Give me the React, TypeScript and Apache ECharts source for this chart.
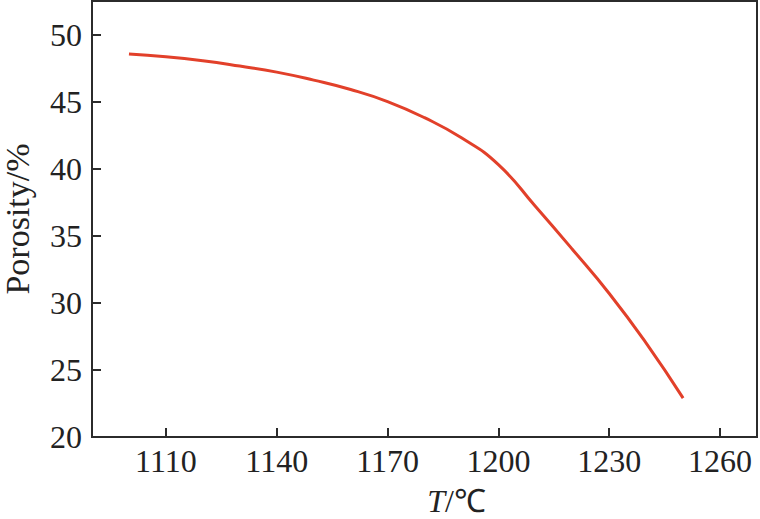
import React, { useEffect, useRef } from "react";
import * as echarts from "echarts";

const temps = [1100, 1110, 1120, 1130, 1140, 1150, 1160, 1170, 1180, 1190, 1200, 1210, 1220, 1230, 1240, 1250];
const porosity = [48.55, 48.35, 48.05, 47.65, 47.2, 46.6, 45.9, 45.0, 43.8, 42.3, 40.3, 37.2, 34.0, 30.7, 27.0, 22.9];
const xTicks = [1110, 1140, 1170, 1200, 1230, 1260];
const yTicks = [20, 25, 30, 35, 40, 45, 50];

const FONT = "'Liberation Serif', 'Times New Roman', serif";

export default function App() {
  const ref = useRef<HTMLDivElement>(null);
  useEffect(() => {
    if (!ref.current) return;
    const chart = echarts.init(ref.current, null, { renderer: "svg" });
    chart.setOption({
      animation: false,
      backgroundColor: "#ffffff",
      grid: {
        left: 92,
        right: 3,
        top: 1,
        bottom: 82,
        show: true,
        borderColor: "#2b2b2b",
        borderWidth: 2,
        backgroundColor: "transparent",
        containLabel: false,
        outerBoundsMode: "none",
      },
      xAxis: {
        type: "value",
        min: 1090,
        max: 1270,
        name: "{i|T}{n|/℃}",
        nameLocation: "middle",
        nameGap: 48,
        nameTextStyle: {
          padding: [0, 0, 0, 64],
          rich: {
            i: { fontFamily: FONT, fontStyle: "italic", fontSize: 32, color: "#222" },
            n: { fontFamily: FONT, fontSize: 32, color: "#222" },
          },
        },
        axisLine: { show: true, lineStyle: { color: "#2b2b2b", width: 2 } },
        axisTick: { show: true, inside: true, length: 9, customValues: xTicks, lineStyle: { color: "#2b2b2b", width: 2 } },
        axisLabel: {
          customValues: xTicks,
          formatter: (v: number) => String(v),
          margin: 8,
          fontFamily: FONT,
          fontSize: 32,
          color: "#222",
        },
        splitLine: { show: false },
      },
      yAxis: {
        type: "value",
        min: 20,
        max: 52.5,
        name: "Porosity/%",
        nameLocation: "middle",
        nameGap: 58,
        nameTextStyle: { fontFamily: FONT, fontSize: 34, color: "#222" },
        axisLine: { show: true, lineStyle: { color: "#2b2b2b", width: 2 } },
        axisTick: { show: true, inside: true, length: 9, customValues: yTicks, lineStyle: { color: "#2b2b2b", width: 2 } },
        axisLabel: {
          customValues: yTicks,
          formatter: (v: number) => String(v),
          margin: 10,
          fontFamily: FONT,
          fontSize: 32,
          color: "#222",
        },
        splitLine: { show: false },
      },
      series: [
        {
          type: "line",
          data: temps.map((t, i) => [t, porosity[i]]),
          smooth: 0.5,
          showSymbol: false,
          symbol: "none",
          lineStyle: { color: "#e2402a", width: 3 },
        },
      ],
    });
    return () => chart.dispose();
  }, []);
  return (
    <div
      ref={ref}
      style={{ position: "fixed", left: 0, top: 0, width: 760, height: 519 }}
    />
  );
}
